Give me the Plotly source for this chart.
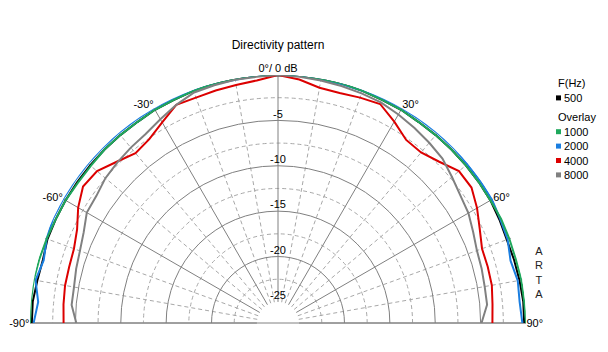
import plotly.graph_objects as go

# ---------------- data ----------------
angles = [-90, -85, -80, -75, -70, -65, -60, -55, -50, -45, -40, -35, -30, -25, -20, -15, -10, -5,
          0, 5, 10, 15, 20, 25, 30, 35, 40, 45, 50, 55, 60, 65, 70, 75, 80, 85, 90]

db_500 = [-0.2, -0.2, -0.4, -0.5, -0.3, -0.3, -0.3, -0.3, -0.3, -0.3, -0.3, -0.3, -0.2, -0.2, -0.1, 0.0, 0.0, 0.0,
          0.0, 0.0, 0.0, 0.0, -0.1, -0.2, -0.2, -0.3, -0.3, -0.3, -0.3, -0.3, -0.3, -0.4, -0.5, -0.4, -0.3, -0.2, -0.2]

db_1000 = [0.0, 0.0, 0.0, -0.1, -0.2, -0.3, -0.3, -0.4, -0.4, -0.3, -0.3, -0.3, -0.2, -0.2, -0.1, 0.0, 0.0, 0.0,
           0.0, 0.0, 0.0, 0.0, -0.1, -0.2, -0.2, -0.3, -0.3, -0.3, -0.3, -0.3, -0.3, -0.2, -0.2, -0.2, -0.1, -0.1, 0.0]

db_2000 = [-0.4, -0.8, -0.2, -0.6, -0.2, 0.0, 0.0, 0.0, 0.0, 0.0, 0.0, 0.0, 0.0, 0.0, 0.0, -0.1, -0.1, 0.0,
           0.0, 0.0, -0.1, -0.1, -0.1, 0.0, 0.0, 0.0, 0.0, 0.0, -0.1, -0.1, -0.1, -0.3, -0.4, -0.8, -0.5, -0.6, -0.4]

db_4000 = [-3.7, -3.6, -3.5, -3.5, -3.4, -2.9, -1.9, -1.1, -1.3, -2.2, -2.9, -2.6, -1.8, -0.8, -0.9, -0.8, -0.7, -0.5,
           0.0, -0.4, -1.0, -1.1, -0.9, -0.7, -1.7, -2.7, -2.8, -2.2, -1.3, -1.3, -2.0, -2.8, -3.4, -3.4, -3.4, -3.6, -3.7]

db_8000 = [-5.1, -4.5, -4.5, -4.3, -4.1, -3.7, -3.0, -2.9, -2.5, -2.3, -2.1, -1.9, -1.4, -0.8, -0.3, -0.2, -0.1, -0.1,
           0.0, -0.1, -0.2, -0.3, -0.4, -0.5, -0.8, -1.1, -1.4, -1.7, -2.3, -2.8, -3.1, -3.6, -4.0, -4.1, -4.2, -4.2, -4.9]

series_names = ["500", "1000", "2000", "4000", "8000"]
series_colors = {"500": "#000000", "1000": "#1fa85c", "2000": "#1a7ee0", "4000": "#dc0000", "8000": "#808080"}
series_data = {"500": db_500, "1000": db_1000, "2000": db_2000, "4000": db_4000, "8000": db_8000}
draw_order = ["500", "2000", "1000", "4000", "8000"]

radial_major = [-25, -20, -15, -10, -5, 0]
radial_minor = [-22.5, -17.5, -12.5, -7.5, -2.5]
radial_labels = ["-5", "-10", "-15", "-20", "-25"]
radial_label_vals = [-5, -10, -15, -20, -25]

angle_major = [-90, -60, -30, 0, 30, 60, 90]
angle_major_text = ["-90°", "-60°", "-30°", "0°/ 0 dB", "30°", "60°", "90°"]
angle_minor = [-80, -70, -50, -40, -20, -10, 10, 20, 40, 50, 70, 80]

legend_title_1 = "F(Hz)"
legend_title_2 = "Overlay"
side_text = "ARTA"

FONT = "Liberation Sans, Arial, sans-serif"
W, H = 608, 352

fig = go.Figure()

# invisible trace so the dashed-grid polar subplot is rendered
fig.add_trace(go.Scatterpolar(r=[None], theta=[None], mode="lines", subplot="polar",
                              showlegend=False, hoverinfo="skip"))

for name in draw_order:
    fig.add_trace(go.Scatterpolar(
        r=series_data[name], theta=angles, mode="lines", name=name,
        line=dict(color=series_colors[name], width=2),
        subplot="polar2", showlegend=False, hoverinfo="skip"))

# radial scale labels along the 0° line
fig.add_trace(go.Scatterpolar(
    r=radial_label_vals, theta=[0] * len(radial_label_vals), mode="text",
    text=radial_labels, textposition="top center",
    textfont=dict(family=FONT, size=11, color="#000000"),
    subplot="polar2", showlegend=False, hoverinfo="skip"))

# polar geometry (pixels)
cx, cy, R = 278, 323, 248
dom_x = [(cx - R) / W, (cx + R) / W]
dom_y = [(H - cy) / H, (H - cy + R) / H]

common_polar = dict(domain=dict(x=dom_x, y=dom_y), sector=[0, 180], hole=0.085,
                    bgcolor="rgba(0,0,0,0)")

# ---- legend drawn as text + small squares ----
annotations = []
shapes = []
leg_x = 556
row_h = 14.4
rows = [("title", legend_title_1, None), ("item", "500", series_colors["500"]),
        ("gap", None, None),
        ("title", legend_title_2, None)] + [("item", n, series_colors[n]) for n in series_names[1:]]
y = 83.5
for kind, txt, col in rows:
    if kind == "gap":
        y += 5
        continue
    if kind == "title":
        annotations.append(dict(text=txt, x=leg_x / W, y=1 - y / H, xref="paper", yref="paper",
                                showarrow=False, xanchor="left", yanchor="middle",
                                font=dict(family=FONT, size=11, color="#000")))
    else:
        shapes.append(dict(type="rect", xref="paper", yref="paper",
                           x0=(leg_x) / W, x1=(leg_x + 5) / W,
                           y0=1 - (y + 2.5) / H, y1=1 - (y - 2.5) / H,
                           fillcolor=col, line=dict(width=0)))
        annotations.append(dict(text=txt, x=(leg_x + 6) / W, y=1 - y / H, xref="paper", yref="paper",
                                showarrow=False, xanchor="left", yanchor="middle",
                                font=dict(family=FONT, size=11, color="#000")))
    y += row_h

annotations.append(dict(text="<br>".join(list(side_text)), x=539 / W, y=1 - 272 / H,
                        xref="paper", yref="paper", showarrow=False,
                        xanchor="center", yanchor="middle",
                        font=dict(family=FONT, size=11, color="#222")))

# baseline through the hole
shapes.append(dict(type="line", xref="paper", yref="paper", x0=dom_x[0], x1=dom_x[1],
                   y0=dom_y[0], y1=dom_y[0], line=dict(color="#808080", width=1), layer="below"))

fig.update_layout(
    width=W, height=H, margin=dict(l=0, r=0, t=0, b=0, autoexpand=False),
    paper_bgcolor="white", showlegend=False,
    font=dict(family=FONT, size=11, color="#000"),
    title=dict(text="Directivity pattern", x=278 / W, y=1 - 45 / H,
               xanchor="center", yanchor="middle",
               font=dict(family=FONT, size=12, color="#000")),
    polar=dict(
        **common_polar,
        radialaxis=dict(range=[-25, 0], tickmode="array", tickvals=radial_minor,
                        showticklabels=False, ticks="", showline=False,
                        gridcolor="#a8a8a8", griddash="4px,3px", gridwidth=1),
        angularaxis=dict(rotation=90, direction="clockwise", tickmode="array",
                         tickvals=angle_minor, showticklabels=False, ticks="",
                         showline=False, gridcolor="#a8a8a8", griddash="4px,3px",
                         gridwidth=1),
    ),
    polar2=dict(
        **common_polar,
        radialaxis=dict(range=[-25, 0], tickmode="array", tickvals=radial_major,
                        showticklabels=False, ticks="", showline=False,
                        gridcolor="#808080", gridwidth=1),
        angularaxis=dict(rotation=90, direction="clockwise", tickmode="array",
                         tickvals=angle_major, ticktext=angle_major_text,
                         tickfont=dict(family=FONT, size=11, color="#000"),
                         ticks="", showline=False, gridcolor="#808080", gridwidth=1),
    ),
    annotations=annotations,
    shapes=shapes,
)

fig.write_html("out.html")
